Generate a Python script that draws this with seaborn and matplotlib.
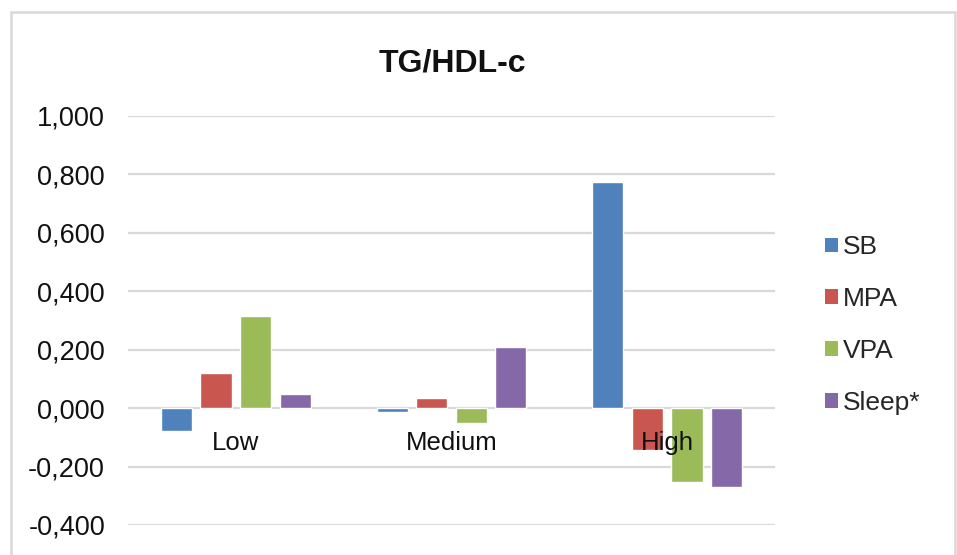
import matplotlib
matplotlib.use("Agg")
import matplotlib.pyplot as plt
from matplotlib.patches import Rectangle
from matplotlib.ticker import FuncFormatter
import seaborn as sns
import pandas as pd

# Tertiles and component coefficients for TG/HDL-c
categories = ["Low", "Medium", "High"]
components = ["SB", "MPA", "VPA", "Sleep*"]
sb = [-0.079, -0.012, 0.774]
mpa = [0.121, 0.035, -0.143]
vpa = [0.314, -0.052, -0.254]
sleep = [0.049, 0.211, -0.271]
yticks = [-0.4, -0.2, 0.0, 0.2, 0.4, 0.6, 0.8, 1.0]
palette = ["#4F81BD", "#C9564F", "#9BBB59", "#8468A8"]

rows = []
for comp, vals in zip(components, [sb, mpa, vpa, sleep]):
    for cat, v in zip(categories, vals):
        rows.append({"group": cat, "component": comp, "value": v})
df = pd.DataFrame(rows)

sns.set_theme(style="white")
plt.rcParams["font.family"] = ["Liberation Sans", "DejaVu Sans"]

W, H, DPI = 957, 555, 100
fig = plt.figure(figsize=(W / DPI, H / DPI), dpi=DPI)
ax = fig.add_axes([128 / W, 1 - 525 / H, (775 - 128) / W, (525 - 116) / H])

sns.barplot(data=df, x="group", y="value", hue="component", order=categories,
            hue_order=components, palette=palette, width=0.733, gap=0.21,
            saturation=1, errorbar=None, ax=ax, legend=True, zorder=3)

ax.set_ylim(-0.4, 1.0)
ax.set_xlim(-0.5, 2.5)
ax.set_yticks(yticks)
ax.yaxis.set_major_formatter(FuncFormatter(lambda v, p: f"{v:.3f}".replace(".", ",")))
ax.tick_params(axis="y", labelsize=19.5, length=0, pad=16.5, colors="#111111")
ax.set_xticks([])
ax.set_xlabel("")
ax.set_ylabel("")
ax.grid(axis="y", color="#d9d9d9", linewidth=1.6, zorder=0)
ax.set_axisbelow(True)
for s in ax.spines.values():
    s.set_visible(False)

# Category names sit just under the zero line
for i, cat in enumerate(categories):
    ax.annotate(cat, xy=(i, 0), xytext=(0, -35 * 72 / DPI), textcoords="offset points",
                ha="center", va="center", fontsize=18.5, color="#111111", zorder=10)

ax.get_legend().remove()
handles = [Rectangle((0, 0), 1, 1, facecolor=c, edgecolor="none") for c in palette]
fig.legend(handles, components, loc="center left",
           bbox_to_anchor=(825 / W, 1 - 325 / H), bbox_transform=fig.transFigure,
           frameon=False, fontsize=19, handlelength=0.49, handleheight=0.49,
           handletextpad=0.2, labelspacing=1.05, borderpad=0, borderaxespad=0)

fig.suptitle("TG/HDL-c", x=452 / W, y=1 - 63 / H, va="center", ha="center",
             fontsize=23, fontweight="bold", color="#111111")

# Light outer frame around the chart
fig.patches.append(Rectangle((11 / W, -0.05), (955 - 11) / W, 1.05 - 12 / H,
                             transform=fig.transFigure, fill=False,
                             edgecolor="#d9d9d9", linewidth=1.8))

fig.savefig("out.png", dpi=DPI)
